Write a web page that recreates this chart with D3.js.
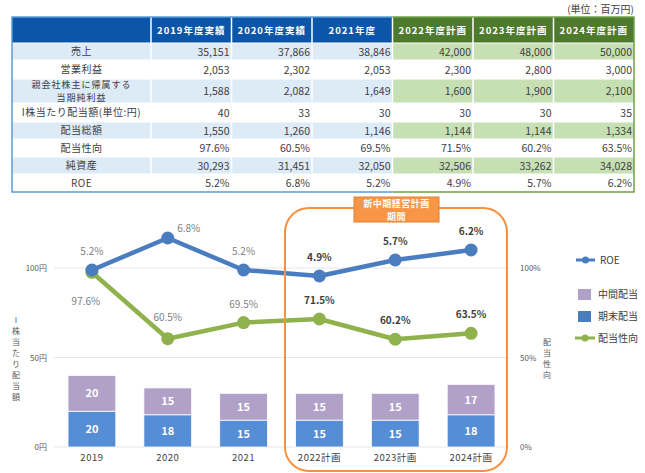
<!DOCTYPE html>
<html>
<head>
<meta charset="utf-8">
<script src="https://cdn.jsdelivr.net/npm/d3@7"></script>
<style>
  body { margin: 0; background: #fff; }
  svg { font-family: "Noto Sans CJK JP", "Noto Sans", sans-serif; }
</style>
</head>
<body>
<div id="chart"></div>
<script>
// ---- table data ----
const columns = ["2019年度実績", "2020年度実績", "2021年度", "2022年度計画", "2023年度計画", "2024年度計画"];
const rowLabels = ["売上", "営業利益", ["親会社株主に帰属する", "当期純利益"], "I株当たり配当額(単位:円)", "配当総額", "配当性向", "純資産", "ROE"];
const sales = ["35,151", "37,866", "38,846", "42,000", "48,000", "50,000"];
const opProfit = ["2,053", "2,302", "2,053", "2,300", "2,800", "3,000"];
const netProfit = ["1,588", "2,082", "1,649", "1,600", "1,900", "2,100"];
const dps = ["40", "33", "30", "30", "30", "35"];
const totalDiv = ["1,550", "1,260", "1,146", "1,144", "1,144", "1,334"];
const payoutText = ["97.6%", "60.5%", "69.5%", "71.5%", "60.2%", "63.5%"];
const netAssets = ["30,293", "31,451", "32,050", "32,506", "33,262", "34,028"];
const roeText = ["5.2%", "6.8%", "5.2%", "4.9%", "5.7%", "6.2%"];
const tableRows = [sales, opProfit, netProfit, dps, totalDiv, payoutText, netAssets, roeText];

// ---- chart data ----
const years = ["2019", "2020", "2021", "2022計画", "2023計画", "2024計画"];
const interimDiv = [20, 15, 15, 15, 15, 17];
const yearEndDiv = [20, 18, 15, 15, 15, 18];
const roe = [5.2, 6.8, 5.2, 4.9, 5.7, 6.2];
const payout = [97.6, 60.5, 69.5, 71.5, 60.2, 63.5];
const leftTicks = [0, 50, 100];
const rightTicks = [0, 50, 100];

const svg = d3.select("#chart").append("svg")
    .attr("width", 645)
    .attr("height", 473);

// ================= table =================
const tLeft = 12, labelW = 139, colW = 80.5;
const rowEdges = [17, 43, 60, 79, 103, 122, 139, 157, 174, 192];
const colX = i => tLeft + labelW + i * colW;

svg.append("text")
    .attr("x", 634).attr("y", 13)
    .attr("text-anchor", "end")
    .attr("font-size", 10).attr("fill", "#404040")
    .text("(単位：百万円)");

// header
svg.append("rect").attr("x", tLeft).attr("y", rowEdges[0])
    .attr("width", labelW).attr("height", rowEdges[1] - rowEdges[0])
    .attr("fill", "#0B56A8");
svg.selectAll(".hcell").data(columns).join("rect")
    .attr("class", "hcell")
    .attr("x", (d, i) => colX(i)).attr("y", rowEdges[0])
    .attr("width", colW).attr("height", rowEdges[1] - rowEdges[0])
    .attr("fill", (d, i) => i < 3 ? "#0B56A8" : "#4E7A2E");
svg.selectAll(".htext").data(columns).join("text")
    .attr("class", "htext")
    .attr("x", (d, i) => colX(i) + colW / 2).attr("y", 34)
    .attr("text-anchor", "middle")
    .attr("font-size", 9.5).attr("font-weight", "bold")
    .attr("letter-spacing", 1)
    .attr("fill", "#fff")
    .text(d => d);

// body
tableRows.forEach((vals, r) => {
    const y0 = rowEdges[r + 1], h = rowEdges[r + 2] - y0;
    const shaded = r % 2 === 0;
    svg.append("rect").attr("x", tLeft).attr("y", y0)
        .attr("width", labelW).attr("height", h)
        .attr("fill", shaded ? "#DDEBF7" : "#fff");
    vals.forEach((v, i) => {
        svg.append("rect").attr("x", colX(i)).attr("y", y0)
            .attr("width", colW).attr("height", h)
            .attr("fill", shaded ? (i < 3 ? "#DDEBF7" : "#C6E0B4") : "#fff");
        svg.append("text")
            .attr("x", colX(i) + colW - 2).attr("y", y0 + h / 2 + 4)
            .attr("text-anchor", "end")
            .attr("font-size", 10.5).attr("fill", "#404040")
            .text(v);
    });
    const lbl = rowLabels[r];
    const lines = Array.isArray(lbl) ? lbl : [lbl];
    const fs = lines.length > 1 ? 9 : 10;
    lines.forEach((t, k) => {
        svg.append("text")
            .attr("x", tLeft + labelW / 2)
            .attr("y", y0 + h / 2 + 3.5 + (k - (lines.length - 1) / 2) * 13)
            .attr("text-anchor", "middle")
            .attr("font-size", fs).attr("fill", "#404040")
            .attr("letter-spacing", lines.length > 1 ? 1 : 0.5)
            .text(t);
    });
});

// white cell separators
const tBottom = rowEdges[rowEdges.length - 1];
for (let i = 0; i < columns.length; i++) {
    svg.append("line").attr("x1", colX(i)).attr("x2", colX(i))
        .attr("y1", rowEdges[0]).attr("y2", tBottom)
        .attr("stroke", "#fff").attr("stroke-width", 1.5);
}
rowEdges.slice(1, -1).forEach(y => {
    svg.append("line").attr("x1", tLeft).attr("x2", colX(6))
        .attr("y1", y).attr("y2", y)
        .attr("stroke", "#fff").attr("stroke-width", 1);
});
// outer borders
svg.append("path")
    .attr("d", `M${colX(3)},${rowEdges[0]} H${tLeft} V${tBottom} H${colX(3)}`)
    .attr("fill", "none").attr("stroke", "#5B9BD5").attr("stroke-width", 1.5);
svg.append("path")
    .attr("d", `M${colX(3)},${rowEdges[0]} H${colX(6)} V${tBottom} H${colX(3)}`)
    .attr("fill", "none").attr("stroke", "#70A14A").attr("stroke-width", 1.5);

// ================= chart =================
const x = d3.scaleBand().domain(years).range([54, 509]).paddingInner(0.37).paddingOuter(0.185);
const cx = d => x(d) + x.bandwidth() / 2;
const y = d3.scaleLinear().domain([0, 100]).range([447, 268]);
const yRoe = d3.scaleLinear().domain([0, 10]).range([374, 174]);

// gridlines
svg.selectAll(".grid").data(leftTicks).join("line")
    .attr("class", "grid")
    .attr("x1", 54).attr("x2", 509)
    .attr("y1", d => y(d)).attr("y2", d => y(d))
    .attr("stroke", "#E6E6E6").attr("stroke-width", 1);

// axes (no domain lines)
const leftAxis = svg.append("g").attr("transform", "translate(50,0)")
    .call(d3.axisLeft(y).tickValues(leftTicks).tickSize(0).tickFormat(d => d + "円"));
const rightAxis = svg.append("g").attr("transform", "translate(515,0)")
    .call(d3.axisRight(y).tickValues(rightTicks).tickSize(0).tickFormat(d => d + "%"));
[leftAxis, rightAxis].forEach(a => {
    a.select(".domain").remove();
    a.selectAll("text").attr("font-size", 8).attr("fill", "#595959")
        .attr("font-family", "'Noto Sans CJK JP', sans-serif");
});
rightAxis.selectAll("text").attr("dx", 2);

// axis titles (stacked vertical)
const leftTitle = "I株当たり配当額".split("");
svg.selectAll(".ltitle").data(leftTitle).join("text")
    .attr("class", "ltitle")
    .attr("x", 16).attr("y", (d, i) => 323 + i * 11)
    .attr("text-anchor", "middle").attr("font-size", 8).attr("fill", "#595959")
    .text(d => d);
const rightTitle = "配当性向".split("");
svg.selectAll(".rtitle").data(rightTitle).join("text")
    .attr("class", "rtitle")
    .attr("x", 547).attr("y", (d, i) => 345 + i * 11)
    .attr("text-anchor", "middle").attr("font-size", 8).attr("fill", "#595959")
    .text(d => d);

// stacked bars
const stackData = years.map((yr, i) => ({ year: yr, end: yearEndDiv[i], mid: interimDiv[i] }));
const stacked = d3.stack().keys(["end", "mid"])(stackData);
const barColors = { end: "#558ED5", mid: "#B1A0C7" };
stacked.forEach(layer => {
    svg.selectAll(".bar-" + layer.key).data(layer).join("rect")
        .attr("class", "bar-" + layer.key)
        .attr("x", d => x(d.data.year))
        .attr("y", d => y(d[1]))
        .attr("width", x.bandwidth())
        .attr("height", d => y(d[0]) - y(d[1]))
        .attr("fill", barColors[layer.key])
        .attr("stroke", "#fff").attr("stroke-width", 0.8);
    svg.selectAll(".blabel-" + layer.key).data(layer).join("text")
        .attr("class", "blabel-" + layer.key)
        .attr("x", d => cx(d.data.year))
        .attr("y", d => (y(d[0]) + y(d[1])) / 2 + 4)
        .attr("text-anchor", "middle")
        .attr("font-size", 11).attr("font-weight", "bold").attr("fill", "#fff")
        .text(d => d.data[layer.key]);
});

// x labels
svg.selectAll(".xlabel").data(years).join("text")
    .attr("class", "xlabel")
    .attr("x", d => cx(d)).attr("y", 461)
    .attr("text-anchor", "middle").attr("font-size", 9.5).attr("fill", "#404040")
    .attr("letter-spacing", 0.5)
    .text(d => d);

// lines
const payoutLine = d3.line().x((d, i) => cx(years[i])).y(d => y(d));
const roeLine = d3.line().x((d, i) => cx(years[i])).y(d => yRoe(d));

svg.append("path").datum(payout)
    .attr("d", payoutLine).attr("fill", "none")
    .attr("stroke", "#8FB24C").attr("stroke-width", 4.5).attr("stroke-linejoin", "round");
svg.selectAll(".pdot").data(payout).join("circle")
    .attr("class", "pdot")
    .attr("cx", (d, i) => cx(years[i])).attr("cy", d => y(d)).attr("r", 6.5)
    .attr("fill", "#8FB24C");

svg.append("path").datum(roe)
    .attr("d", roeLine).attr("fill", "none")
    .attr("stroke", "#4A7DC0").attr("stroke-width", 4.5).attr("stroke-linejoin", "round");
svg.selectAll(".rdot").data(roe).join("circle")
    .attr("class", "rdot")
    .attr("cx", (d, i) => cx(years[i])).attr("cy", d => yRoe(d)).attr("r", 6.5)
    .attr("fill", "#4A7DC0");

// line data labels
const roeOffsets = [[0, -15], [21, -6], [0, -15], [0, -15], [0, -15], [0, -15]];
svg.selectAll(".rlabel").data(roe).join("text")
    .attr("class", "rlabel")
    .attr("x", (d, i) => cx(years[i]) + roeOffsets[i][0])
    .attr("y", (d, i) => yRoe(d) + roeOffsets[i][1])
    .attr("text-anchor", "middle")
    .attr("font-size", 10)
    .attr("font-weight", (d, i) => i >= 3 ? "bold" : "normal")
    .attr("fill", (d, i) => i >= 3 ? "#404040" : "#7F7F7F")
    .text((d, i) => roeText[i]);
const payOffsets = [[-6, 33], [0, -18], [0, -15], [0, -15], [0, -15], [0, -15]];
svg.selectAll(".plabel").data(payout).join("text")
    .attr("class", "plabel")
    .attr("x", (d, i) => cx(years[i]) + payOffsets[i][0])
    .attr("y", (d, i) => y(d) + payOffsets[i][1])
    .attr("text-anchor", "middle")
    .attr("font-size", 10)
    .attr("font-weight", (d, i) => i >= 3 ? "bold" : "normal")
    .attr("fill", (d, i) => i >= 3 ? "#404040" : "#7F7F7F")
    .text((d, i) => payoutText[i]);

// plan period highlight
svg.append("rect")
    .attr("x", 285).attr("y", 208).attr("width", 222).attr("height", 263)
    .attr("rx", 24).attr("ry", 24)
    .attr("fill", "none").attr("stroke", "#F59140").attr("stroke-width", 2);
svg.append("rect")
    .attr("x", 354).attr("y", 197).attr("width", 85).attr("height", 25)
    .attr("fill", "#F79646").attr("stroke", "#E3802F").attr("stroke-width", 1);
["新中期経営計画", "期間"].forEach((t, k) => {
    svg.append("text")
        .attr("x", 396.5).attr("y", 206.5 + k * 13)
        .attr("text-anchor", "middle")
        .attr("font-size", 9).attr("font-weight", "bold").attr("fill", "#fff")
        .attr("letter-spacing", 0.5)
        .text(t);
});

// legend
const lg = svg.append("g").attr("font-size", 10).attr("fill", "#404040");
lg.append("line").attr("x1", 576).attr("x2", 595).attr("y1", 260).attr("y2", 260)
    .attr("stroke", "#4A7DC0").attr("stroke-width", 3);
lg.append("circle").attr("cx", 585.5).attr("cy", 260).attr("r", 3.5).attr("fill", "#4A7DC0");
lg.append("text").attr("x", 600).attr("y", 264).text("ROE");
lg.append("rect").attr("x", 578).attr("y", 289).attr("width", 13).attr("height", 11).attr("fill", "#B1A0C7");
lg.append("text").attr("x", 598).attr("y", 298).text("中間配当");
lg.append("rect").attr("x", 578).attr("y", 311).attr("width", 13).attr("height", 11).attr("fill", "#4A7DC0");
lg.append("text").attr("x", 598).attr("y", 320).text("期末配当");
lg.append("line").attr("x1", 575).attr("x2", 595).attr("y1", 338).attr("y2", 338)
    .attr("stroke", "#8FB24C").attr("stroke-width", 3);
lg.append("circle").attr("cx", 585).attr("cy", 338).attr("r", 3.5).attr("fill", "#8FB24C");
lg.append("text").attr("x", 598).attr("y", 342).text("配当性向");
</script>
</body>
</html>
